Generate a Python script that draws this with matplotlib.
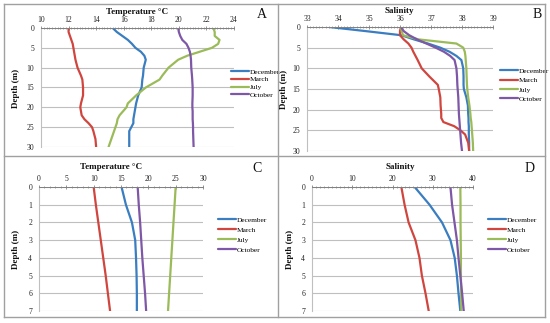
import matplotlib
matplotlib.use("Agg")
import matplotlib.pyplot as plt
from matplotlib.ticker import MultipleLocator, AutoMinorLocator
from matplotlib.lines import Line2D

plt.rcParams['font.family'] = ['Liberation Serif', 'DejaVu Serif']

# ---------------- data ----------------
series_names = ["December", "March", "July", "October"]
series_colors = ["#3A7DC0", "#D0463F", "#9BBB59", "#7E57A6"]

# Panel A: temperature vs depth (0-30 m)
depth_A = [0, 1, 2, 3, 4, 5, 6, 7, 8, 10, 12, 13, 15, 17, 19, 20, 21, 22, 23, 24, 25, 26, 28, 30]
tempA_dec = [15.2, 15.5, 15.9, 16.3, 16.6, 16.85, 17.25, 17.5, 17.6, 17.45, 17.4, 17.35, 17.3, 17.05, 16.9,
             16.85, 16.8, 16.75, 16.7, 16.7, 16.55, 16.4, 16.4, 16.4]
tempA_mar = [12.0, 12.0, 12.1, 12.2, 12.3, 12.35, 12.4, 12.45, 12.5, 12.65, 12.9, 13.0, 13.05, 13.05, 12.9,
             12.85, 12.9, 12.95, 13.15, 13.45, 13.7, 13.8, 13.95, 14.0]
tempA_jul = [22.5, 22.6, 22.6, 22.95, 22.85, 22.4, 21.5, 20.6, 19.95, 19.25, 18.8, 18.6, 17.6, 16.9, 16.3,
             16.2, 15.95, 15.7, 15.55, 15.5, 15.4, 15.3, 15.1, 14.9]
tempA_oct = [19.95, 20.0, 20.1, 20.25, 20.55, 20.7, 20.8, 20.85, 20.88, 20.9, 20.95, 20.97, 21.0, 21.0, 20.98,
             20.98, 21.0, 21.0, 21.0, 21.02, 21.03, 21.03, 21.05, 21.07]

# Panel B: salinity vs depth (0-30 m)
depth_B = [0, 1, 2, 3, 4, 5, 6, 7, 8, 10, 12, 14, 15, 17, 19, 21, 22, 23, 24, 25, 26, 28, 30]
salB_dec = [33.72, 34.9, 36.05, 36.45, 36.9, 37.3, 37.6, 37.82, 37.98, 38.04, 38.05, 38.05, 38.06, 38.14,
            38.19, 38.2, 38.21, 38.21, 38.22, 38.22, 38.22, 38.23, 38.23]
salB_mar = [36.03, 36.0, 36.0, 36.12, 36.27, 36.37, 36.43, 36.5, 36.57, 36.7, 36.95, 37.22, 37.25, 37.3,
            37.31, 37.33, 37.33, 37.4, 37.75, 37.95, 38.1, 38.2, 38.23]
salB_jul = [36.03, 36.05, 36.1, 36.6, 37.82, 38.04, 38.09, 38.11, 38.12, 38.14, 38.15, 38.16, 38.17, 38.2,
            38.24, 38.27, 38.28, 38.3, 38.31, 38.32, 38.33, 38.35, 38.36]
salB_oct = [36.03, 36.12, 36.3, 36.55, 36.85, 37.15, 37.42, 37.62, 37.76, 37.82, 37.84, 37.85, 37.86, 37.88,
            37.89, 37.9, 37.91, 37.92, 37.93, 37.94, 37.95, 37.97, 38.0]

# Panel C: temperature vs depth (0-7 m)
depth_C = [0, 1, 2, 3, 4, 5, 6, 7]
tempC_dec = [15.1, 15.9, 17.0, 17.6, 17.75, 17.85, 17.9, 17.9]
tempC_mar = [10.0, 10.4, 10.85, 11.3, 11.75, 12.2, 12.6, 13.0]
tempC_jul = [25.0, 24.8, 24.6, 24.4, 24.2, 24.0, 23.8, 23.6]
tempC_oct = [18.05, 18.25, 18.5, 18.7, 18.9, 19.15, 19.4, 19.6]

# Panel D: salinity vs depth (0-7 m)
depth_D = [0, 1, 2, 3, 4, 5, 6, 7]
salD_dec = [25.5, 29.2, 32.3, 34.4, 35.45, 36.0, 36.4, 36.85]
salD_mar = [22.2, 23.0, 24.0, 25.7, 26.7, 27.3, 28.2, 29.0]
salD_jul = [36.85, 36.9, 36.9, 36.95, 37.0, 37.0, 37.05, 37.1]
salD_oct = [34.4, 34.8, 35.4, 36.0, 36.4, 36.85, 37.3, 37.7]

W, H = 550, 323
fig = plt.figure(figsize=(W / 100, H / 100), dpi=100)
fig.patch.set_facecolor("white")


def px_axes(x0, y0, x1, y1):
    return fig.add_axes([x0 / W, 1 - y1 / H, (x1 - x0) / W, (y1 - y0) / H])


panels = [
    dict(box=(41, 28, 234, 147), x=(10, 24), xmaj=2, xminor=10, y=(0, 30), ymaj=5,
         depth=depth_A, vals=[tempA_dec, tempA_mar, tempA_jul, tempA_oct],
         title="Temperature \u00b0C", tpos=(137, 12), letter="A", lpos=(262, 15),
         leg=(231, 73, 8.9), ylab=(16, 88)),
    dict(box=(307, 27, 493, 151), x=(33, 39), xmaj=1, xminor=10, y=(0, 30), ymaj=5,
         depth=depth_B, vals=[salB_dec, salB_mar, salB_jul, salB_oct],
         title="Salinity", tpos=(399, 11), letter="B", lpos=(537, 14),
         leg=(500, 73, 10.6), ylab=(284, 89)),
    dict(box=(39, 187, 203, 311), x=(0, 30), xmaj=5, xminor=5, y=(0, 7), ymaj=1,
         depth=depth_C, vals=[tempC_dec, tempC_mar, tempC_jul, tempC_oct],
         title="Temperature \u00b0C", tpos=(111, 167), letter="C", lpos=(257, 168),
         leg=(218, 222, 11.3), ylab=(16, 249)),
    dict(box=(312, 187, 473, 311), x=(0, 40), xmaj=10, xminor=10, y=(0, 7), ymaj=1,
         depth=depth_D, vals=[salD_dec, salD_mar, salD_jul, salD_oct],
         title="Salinity", tpos=(400, 167), letter="D", lpos=(530, 168),
         leg=(488, 222, 11.3), ylab=(290, 249)),
]

for p in panels:
    ax = px_axes(*p["box"])
    handles = []
    for vals, name, col in zip(p["vals"], series_names, series_colors):
        h, = ax.plot(vals, p["depth"], color=col, lw=1.6, label=name,
                     solid_capstyle="round", solid_joinstyle="round")
        handles.append(h)
    ax.set_xlim(*p["x"])
    ax.set_ylim(p["y"][1], p["y"][0])
    ax.xaxis.tick_top()
    ax.xaxis.set_major_locator(MultipleLocator(p["xmaj"]))
    ax.xaxis.set_minor_locator(AutoMinorLocator(p["xminor"]))
    ax.yaxis.set_major_locator(MultipleLocator(p["ymaj"]))
    ax.tick_params(axis="x", which="major", direction="inout", length=3, width=0.6,
                   colors="#808080", labelcolor="#222222", labelsize=5.5, pad=1.5)
    ax.tick_params(axis="x", which="minor", direction="inout", length=1.6, width=0.5, colors="#808080")
    ax.tick_params(axis="y", which="major", length=0, labelsize=5.5, labelcolor="#222222", pad=5)
    ax.grid(axis="y", color="#BFBFBF", lw=0.8)
    ax.set_axisbelow(True)
    for s in ["right", "bottom"]:
        ax.spines[s].set_visible(False)
    ax.spines["top"].set_color("#808080")
    ax.spines["top"].set_linewidth(0.7)
    ax.spines["left"].set_color("#BFBFBF")
    ax.spines["left"].set_linewidth(0.8)
    ax.patch.set_alpha(0)

    lx, ly, lsp = p["leg"]
    ax.legend(handles, series_names, loc="upper left",
              bbox_to_anchor=(lx / W, 1 - (ly - lsp / 2) / H), bbox_transform=fig.transFigure,
              frameon=False, fontsize=5.3, handlelength=2.4, handletextpad=0.15,
              labelspacing=(lsp / 100 * 72 - 5.3) / 5.3, borderpad=0, borderaxespad=0)

    fig.text(p["tpos"][0] / W, 1 - p["tpos"][1] / H, p["title"], ha="center", va="center",
             fontsize=6.5, fontweight="bold", color="#111111")
    fig.text(p["lpos"][0] / W, 1 - p["lpos"][1] / H, p["letter"], ha="center", va="center",
             fontsize=10, color="#111111")
    fig.text(p["ylab"][0] / W, 1 - p["ylab"][1] / H, "Depth (m)", ha="center", va="center",
             rotation=90, fontsize=6.5, fontweight="bold", color="#111111")

# frame and dividers
frame_col = "#A0A0A0"
for (x0, y0, x1, y1) in [(4, 4, 545, 4), (4, 317, 545, 317), (4, 4, 4, 317), (545, 4, 545, 317),
                         (278, 4, 278, 317), (4, 156, 545, 156)]:
    fig.add_artist(Line2D([x0 / W, x1 / W], [1 - y0 / H, 1 - y1 / H], color=frame_col, lw=1.0,
                          transform=fig.transFigure))

fig.savefig("out.png", dpi=100)
